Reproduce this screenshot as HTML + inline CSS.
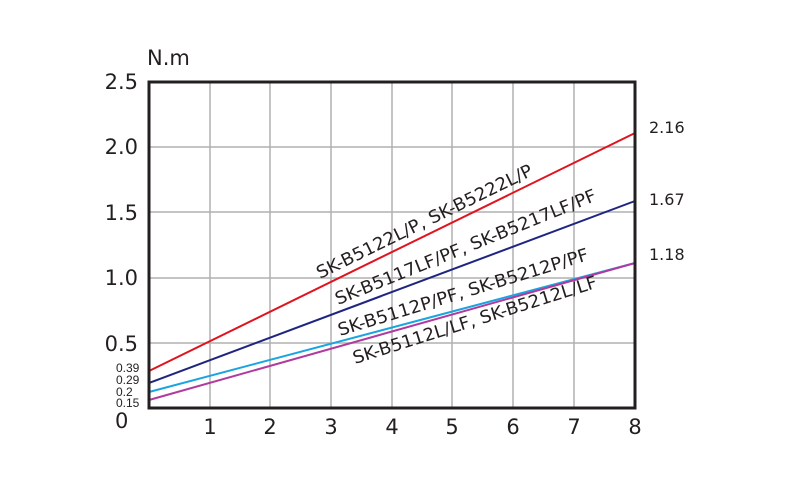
<!DOCTYPE html>
<html><head><style>body{margin:0;background:#fff}</style></head><body>
<svg width="800" height="475" xmlns="http://www.w3.org/2000/svg" font-family="Liberation Sans, DejaVu Sans, sans-serif">
<g stroke="#b0b0b0" stroke-width="1.5">
<line x1="210" y1="82" x2="210" y2="408"/><line x1="270" y1="82" x2="270" y2="408"/><line x1="331" y1="82" x2="331" y2="408"/><line x1="392" y1="82" x2="392" y2="408"/><line x1="452" y1="82" x2="452" y2="408"/><line x1="513" y1="82" x2="513" y2="408"/><line x1="574" y1="82" x2="574" y2="408"/>
<line x1="149" y1="147" x2="635" y2="147"/><line x1="149" y1="212" x2="635" y2="212"/><line x1="149" y1="278" x2="635" y2="278"/><line x1="149" y1="343" x2="635" y2="343"/>
</g>
<line x1="149" y1="371" x2="635" y2="133" stroke="#e0141e" stroke-width="2"/>
<line x1="149" y1="383" x2="635" y2="201" stroke="#1e2580" stroke-width="2"/>
<line x1="149" y1="392" x2="635" y2="263" stroke="#1aa5e0" stroke-width="2"/>
<line x1="149" y1="400" x2="635" y2="263" stroke="#b03a9e" stroke-width="2"/>
<rect x="149" y="82" width="486" height="326" fill="none" stroke="#231f20" stroke-width="3"/>
<g font-size="21" fill="#231f20" font-family="DejaVu Sans, sans-serif">
<text x="147" y="65">N.m</text>
<text x="138" y="89" text-anchor="end">2.5</text>
<text x="138" y="154" text-anchor="end">2.0</text>
<text x="138" y="220" text-anchor="end">1.5</text>
<text x="138" y="285" text-anchor="end">1.0</text>
<text x="138" y="351" text-anchor="end">0.5</text>
<text x="115" y="428">0</text>
<g text-anchor="middle"><text x="210" y="434">1</text><text x="270" y="434">2</text><text x="331" y="434">3</text><text x="392" y="434">4</text><text x="452" y="434">5</text><text x="513" y="434">6</text><text x="574" y="434">7</text><text x="635" y="434">8</text></g>
</g>
<g font-size="12" fill="#231f20">
<text x="116" y="372">0.39</text><text x="116" y="384">0.29</text><text x="116" y="396">0.2</text><text x="116" y="407">0.15</text>
</g>
<g font-size="16" fill="#231f20" font-family="DejaVu Sans, sans-serif">
<text x="649" y="133">2.16</text><text x="649" y="205">1.67</text><text x="649" y="260">1.18</text>
</g>
<g font-size="17.5" fill="#231f20" font-family="DejaVu Sans, sans-serif">
<text transform="translate(320,279) rotate(-26)" textLength="238" lengthAdjust="spacingAndGlyphs">SK-B5122L/P, SK-B5222L/P</text>
<text transform="translate(338,305) rotate(-22)" textLength="280" lengthAdjust="spacingAndGlyphs">SK-B5117LF/PF, SK-B5217LF/PF</text>
<text transform="translate(340,336) rotate(-17)" textLength="261" lengthAdjust="spacingAndGlyphs">SK-B5112P/PF, SK-B5212P/PF</text>
<text transform="translate(355,364) rotate(-17.5)" textLength="255" lengthAdjust="spacingAndGlyphs">SK-B5112L/LF, SK-B5212L/LF</text>
</g>
</svg>
</body></html>
